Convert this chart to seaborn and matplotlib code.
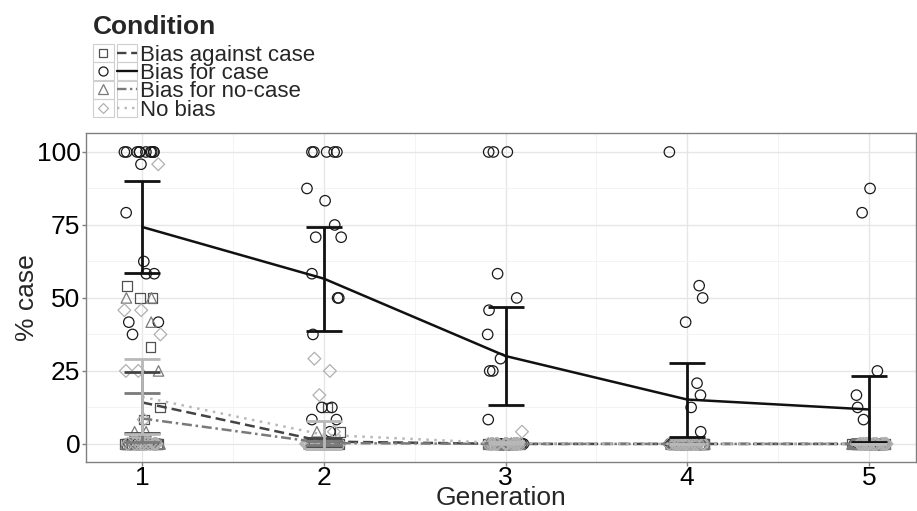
import numpy as np
import pandas as pd
import seaborn as sns
import matplotlib.pyplot as plt
from matplotlib.lines import Line2D
from matplotlib.patches import Rectangle
from matplotlib.legend_handler import HandlerTuple

np.random.seed(7)  # only for the horizontal jitter of the dots

generations = [1, 2, 3, 4, 5]
conditions = ['Bias against case', 'Bias for case', 'Bias for no-case', 'No bias']

# % case per participant, one list per generation (20 per condition)
against_case = [
    [54.2, 50, 50, 33.3, 12.5, 8.33] + [0] * 14,
    [12.5, 4.17] + [0] * 18,
    [0] * 20,
    [0] * 20,
    [0] * 20,
]
for_case = [
    [100] * 10 + [95.8, 79.2, 62.5, 58.3, 58.3, 41.7, 41.7, 37.5, 0, 0],
    [100] * 5 + [87.5, 83.3, 75, 70.8, 70.8, 58.3, 50, 50, 37.5, 12.5, 12.5, 8.33, 8.33, 4.17, 0],
    [100] * 3 + [58.3, 50, 45.8, 37.5, 29.2, 25, 25, 8.33] + [0] * 9,
    [100, 54.2, 50, 41.7, 20.8, 16.7, 12.5, 4.17] + [0] * 12,
    [87.5, 79.2, 25, 16.7, 12.5, 8.33] + [0] * 14,
]
for_no_case = [
    [50, 50, 41.7, 25, 4.17, 4.17] + [0] * 14,
    [4.17] + [0] * 19,
    [0] * 20,
    [0] * 20,
    [0] * 20,
]
no_bias = [
    [95.8, 45.8, 45.8, 37.5, 25, 25, 8.33] + [0] * 13,
    [29.2, 25, 16.7, 4.17] + [0] * 16,
    [4.17] + [0] * 19,
    [0] * 20,
    [0] * 20,
]

mean_against = [14.2, 0.8, 0, 0, 0]
lo_against = [3.8, -0.7, 0, 0, 0]
hi_against = [24.5, 2.0, 0, 0, 0]
mean_for = [74.3, 56.6, 30.1, 15.2, 11.8]
lo_for = [58.4, 38.8, 13.4, 2.2, 0.5]
hi_for = [90.2, 74.2, 46.9, 27.6, 23.3]
mean_no_case = [8.7, 0.3, 0, 0, 0]
lo_no_case = [0.5, -0.4, 0, 0, 0]
hi_no_case = [17.4, 1.0, 0, 0, 0]
mean_no_bias = [16.1, 3.1, 0.2, 0, 0]
lo_no_bias = [3.3, -1.7, -0.2, 0, 0]
hi_no_bias = [29.0, 7.9, 0.6, 0, 0]

rows = []
for cond, per_gen in zip(conditions, [against_case, for_case, for_no_case, no_bias]):
    for g, vals in zip(generations, per_gen):
        for v in vals:
            rows.append((cond, g, v))
points = pd.DataFrame(rows, columns=['Condition', 'Generation', 'pct'])

summary = pd.DataFrame({
    'Condition': np.repeat(conditions, len(generations)),
    'Generation': generations * len(conditions),
    'mean': mean_against + mean_for + mean_no_case + mean_no_bias,
    'lo': lo_against + lo_for + lo_no_case + lo_no_bias,
    'hi': hi_against + hi_for + hi_no_case + hi_no_bias,
})

markers = {'Bias against case': 's', 'Bias for case': 'o', 'Bias for no-case': '^', 'No bias': 'D'}
msize = {'Bias against case': 7, 'Bias for case': 7.5, 'Bias for no-case': 7.5, 'No bias': 6.5}
pt_col = {'Bias against case': '#505050', 'Bias for case': '#1a1a1a', 'Bias for no-case': '#7a7a7a', 'No bias': '#b0b0b0'}
line_col = {'Bias against case': '#444444', 'Bias for case': '#111111', 'Bias for no-case': '#7a7a7a', 'No bias': '#b8b8b8'}
dashes = {'Bias against case': (4, 2), 'Bias for case': '', 'Bias for no-case': (4, 1.5, 1, 1.5), 'No bias': (1, 2.2)}


class BoxedTuple(HandlerTuple):
    # ggplot-like legend: marker key and line key, each in its own grey box
    def create_artists(self, legend, orig_handle, xdescent, ydescent, width, height, fontsize, trans):
        arts = super().create_artists(legend, orig_handle, xdescent, ydescent, width, height, fontsize, trans)
        pad = self._pad * fontsize
        w = (width - pad) / 2
        bh = 13.0
        yc = -ydescent + height / 2
        boxes = []
        for i in range(2):
            x0 = -xdescent + i * (w + pad)
            boxes.append(Rectangle((x0, yc - bh / 2), w, bh, facecolor='none',
                                   edgecolor='#cfcfcf', linewidth=0.8, transform=trans))
        return boxes + arts


sns.set_style('white')
plt.rcParams['font.family'] = ['Liberation Sans', 'DejaVu Sans']

fig = plt.figure(figsize=(9.17, 5.11), dpi=100)
ax = fig.add_axes([86 / 917, 1 - 462 / 511, (916 - 86) / 917, (462 - 133) / 511])

# dots
for cond in conditions:
    n0 = len(ax.collections)
    sns.stripplot(data=points[points['Condition'] == cond], x='Generation', y='pct',
                  native_scale=True, jitter=0.1, marker=markers[cond], size=msize[cond],
                  color=pt_col[cond], edgecolor=pt_col[cond], linewidth=0.9, ax=ax, zorder=2)
    for coll in ax.collections[n0:]:
        coll.set_facecolor('none')
        coll.set_edgecolor(pt_col[cond])

# mean lines
sns.lineplot(data=summary, x='Generation', y='mean', hue='Condition', style='Condition',
             palette=line_col, dashes=dashes, linewidth=1.8, legend=False, ax=ax, zorder=3)

# error bars
for cond in conditions:
    s = summary[summary['Condition'] == cond]
    ax.errorbar(s['Generation'], s['mean'], yerr=[s['mean'] - s['lo'], s['hi'] - s['mean']],
                fmt='none', ecolor=line_col[cond], elinewidth=2.0, capsize=13, capthick=2.0, zorder=4)

ax.set_xlim(0.69, 5.26)
ax.set_ylim(-6.2, 106.5)
ax.set_xticks(generations)
ax.set_xticks([1.5, 2.5, 3.5, 4.5], minor=True)
ax.set_yticks([0, 25, 50, 75, 100])
ax.set_yticks([12.5, 37.5, 62.5, 87.5], minor=True)
ax.grid(which='major', color='#e6e6e6', linewidth=1.0)
ax.grid(which='minor', color='#f3f3f3', linewidth=0.7)
ax.set_axisbelow(True)
for sp in ax.spines.values():
    sp.set_color('#808080')
    sp.set_linewidth(1.0)
ax.tick_params(axis='both', which='major', length=3, width=1, color='#808080',
               labelsize=19, labelcolor='black', pad=1, bottom=True, left=True)
ax.tick_params(axis='x', pad=0)
ax.tick_params(which='minor', length=0)
ax.set_xlabel('Generation', fontsize=19, labelpad=-3)
ax.set_ylabel('% case', fontsize=19, labelpad=-2)

# legend: shape key + line key side by side
handles = []
for cond in conditions:
    mk = Line2D([], [], linestyle='none', marker=markers[cond], markersize=msize[cond] - 1,
                markerfacecolor='none', markeredgecolor=pt_col[cond], markeredgewidth=0.9)
    ln = Line2D([], [], color=line_col[cond], linewidth=1.7)
    if dashes[cond]:
        ln.set_dashes(dashes[cond])
    handles.append((mk, ln))
leg = fig.legend(handles, conditions, loc='upper left', bbox_to_anchor=(93 / 917, 1 - 15 / 511),
                 frameon=False, title='Condition', fontsize=16,
                 title_fontproperties={'weight': 'bold', 'size': 19}, alignment='left',
                 handler_map={tuple: BoxedTuple(ndivide=None, pad=0.14)},
                 handlelength=2.0, handleheight=0.8, handletextpad=0.1, labelspacing=-0.13,
                 borderpad=0, borderaxespad=0)
leg._legend_box.sep = 4

fig.savefig('out.png', dpi=100)
